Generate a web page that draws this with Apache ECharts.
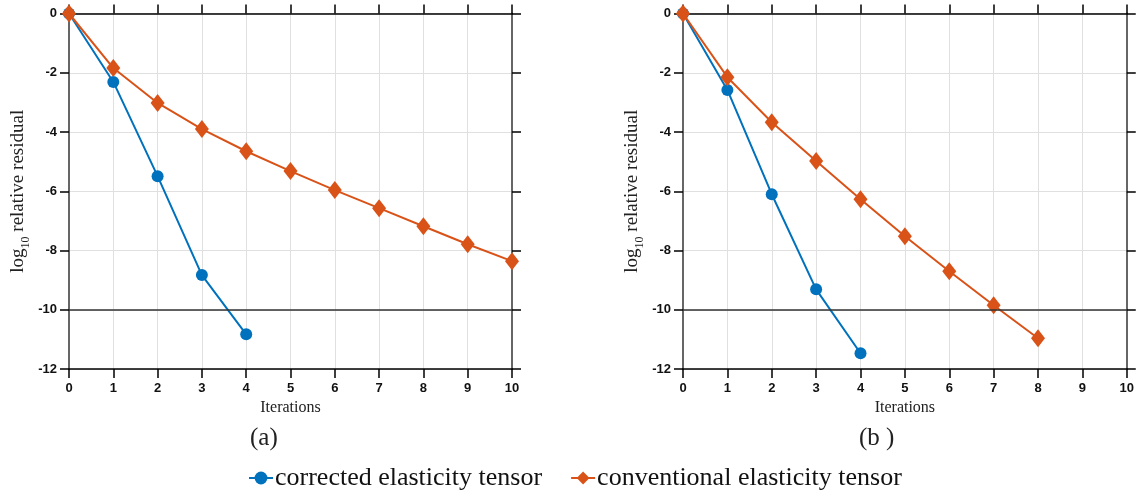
<!DOCTYPE html>
<html><head><meta charset="utf-8">
<script src="https://cdn.jsdelivr.net/npm/echarts@6/dist/echarts.min.js"></script>
<style>html,body{margin:0;padding:0;background:#fff}#c{width:1137px;height:500px}</style>
</head><body><div id="c"></div>
<script>
const iterations = [0,1,2,3,4,5,6,7,8,9,10];
const xTicks = ['0','1','2','3','4','5','6','7','8','9','10'];
const yTicks = [0,-2,-4,-6,-8,-10,-12];
const correctedA = [0,-2.31,-5.49,-8.83,-10.83];
const conventionalA = [0,-1.84,-3.02,-3.90,-4.65,-5.32,-5.96,-6.57,-7.18,-7.79,-8.36];
const correctedB = [0,-2.58,-6.10,-9.31,-11.47];
const conventionalB = [0,-2.15,-3.67,-4.98,-6.27,-7.52,-8.70,-9.85,-10.96];
const panelLabels = ['(a)','(b )'];
const seriesNames = ['corrected elasticity tensor','conventional elasticity tensor'];
const threshold = -10;

const BLUE = '#0072BD', ORANGE = '#D95319';
const serif = '"Liberation Serif","DejaVu Serif",serif';
const sans = '"Liberation Sans",Arial,sans-serif';

const grids = [
  {left:69, top:13.5, width:443, height:355.5},
  {left:683, top:13.5, width:444, height:355.5}
];
function pairs(arr){ return arr.map((v,i)=>[iterations[i], v]); }

const xAxes = [], yAxes = [];
grids.forEach((g,gi)=>{
  xAxes.push({gridIndex:gi, type:'value', min:0, max:10, interval:1, position:'bottom',
    name:'Iterations', nameLocation:'middle', nameGap:31,
    nameTextStyle:{fontFamily:serif, fontSize:16, color:'#222'},
    axisLine:{show:true, onZero:false, lineStyle:{color:'#000', width:1.5}},
    axisTick:{show:true, inside:false, length:9, lineStyle:{color:'#000', width:1.5}},
    axisLabel:{fontFamily:sans, fontWeight:'bold', fontSize:13, color:'#111', margin:13,
      formatter:(v)=>xTicks[v]},
    splitLine:{show:true, lineStyle:{color:'#e0e0e0', width:1}}
  });
  xAxes.push({gridIndex:gi, type:'value', min:0, max:10, interval:1, position:'top',
    axisLine:{show:true, onZero:false, lineStyle:{color:'#000', width:1.5}},
    axisTick:{show:true, inside:false, length:9, lineStyle:{color:'#000', width:1.5}},
    axisLabel:{show:false}, splitLine:{show:false}
  });
  yAxes.push({gridIndex:gi, type:'value', min:-12, max:0, interval:2, position:'left',
    name:'{a|log}{s|10}{a| relative residual}', nameLocation:'middle', nameGap:37, nameRotate:90,
    nameTextStyle:{rich:{a:{fontFamily:serif, fontSize:19, color:'#222'},
      s:{fontFamily:serif, fontSize:12, color:'#222', verticalAlign:'bottom', lineHeight:28}}},
    axisLine:{show:true, onZero:false, lineStyle:{color:'#666', width:2}},
    axisTick:{show:true, inside:false, length:9, lineStyle:{color:'#000', width:1.5}},
    axisLabel:{fontFamily:sans, fontWeight:'bold', fontSize:13, color:'#111', margin:12,
      formatter:(v)=> yTicks.includes(v) ? String(v) : ''},
    splitLine:{show:true, lineStyle:{color:'#e0e0e0', width:1}}
  });
  yAxes.push({gridIndex:gi, type:'value', min:-12, max:0, interval:2, position:'right',
    axisLine:{show:true, onZero:false, lineStyle:{color:'#666', width:2}},
    axisTick:{show:true, inside:false, length:9, lineStyle:{color:'#000', width:1.5}},
    axisLabel:{show:false}, splitLine:{show:false}
  });
});

function mk(name, data, gi, isBlue, withMark){
  const s = {name, type:'line', xAxisIndex:gi*2, yAxisIndex:gi*2, data:pairs(data),
    symbol: isBlue ? 'circle' : 'diamond', symbolSize: isBlue ? 12 : [14,18],
    lineStyle:{color: isBlue?BLUE:ORANGE, width:2}, itemStyle:{color: isBlue?BLUE:ORANGE},
    z: isBlue?3:4, animation:false};
  if (withMark) s.markLine = {silent:true, symbol:'none', label:{show:false}, animation:false,
    lineStyle:{color:'#333', width:1.5, type:'solid'}, data:[{yAxis:threshold}]};
  return s;
}

const chart = echarts.init(document.getElementById('c'), null, {renderer:'canvas'});
chart.setOption({
  animation:false,
  grid: grids,
  xAxis: xAxes,
  yAxis: yAxes,
  legend:{data:seriesNames, bottom:4, left:243, itemGap:28, itemWidth:24, itemHeight:16,
    textStyle:{fontFamily:serif, fontSize:26, color:'#111', padding:[0,0,0,-3]}},
  graphic:[
    {type:'text', left:250, top:426, style:{text:panelLabels[0], font:'25px '+serif, fill:'#222'}},
    {type:'text', left:859, top:426, style:{text:panelLabels[1], font:'25px '+serif, fill:'#222'}}
  ],
  series:[
    mk(seriesNames[0], correctedA, 0, true, true),
    mk(seriesNames[1], conventionalA, 0, false, false),
    mk(seriesNames[0], correctedB, 1, true, true),
    mk(seriesNames[1], conventionalB, 1, false, false)
  ]
});
</script></body></html>
